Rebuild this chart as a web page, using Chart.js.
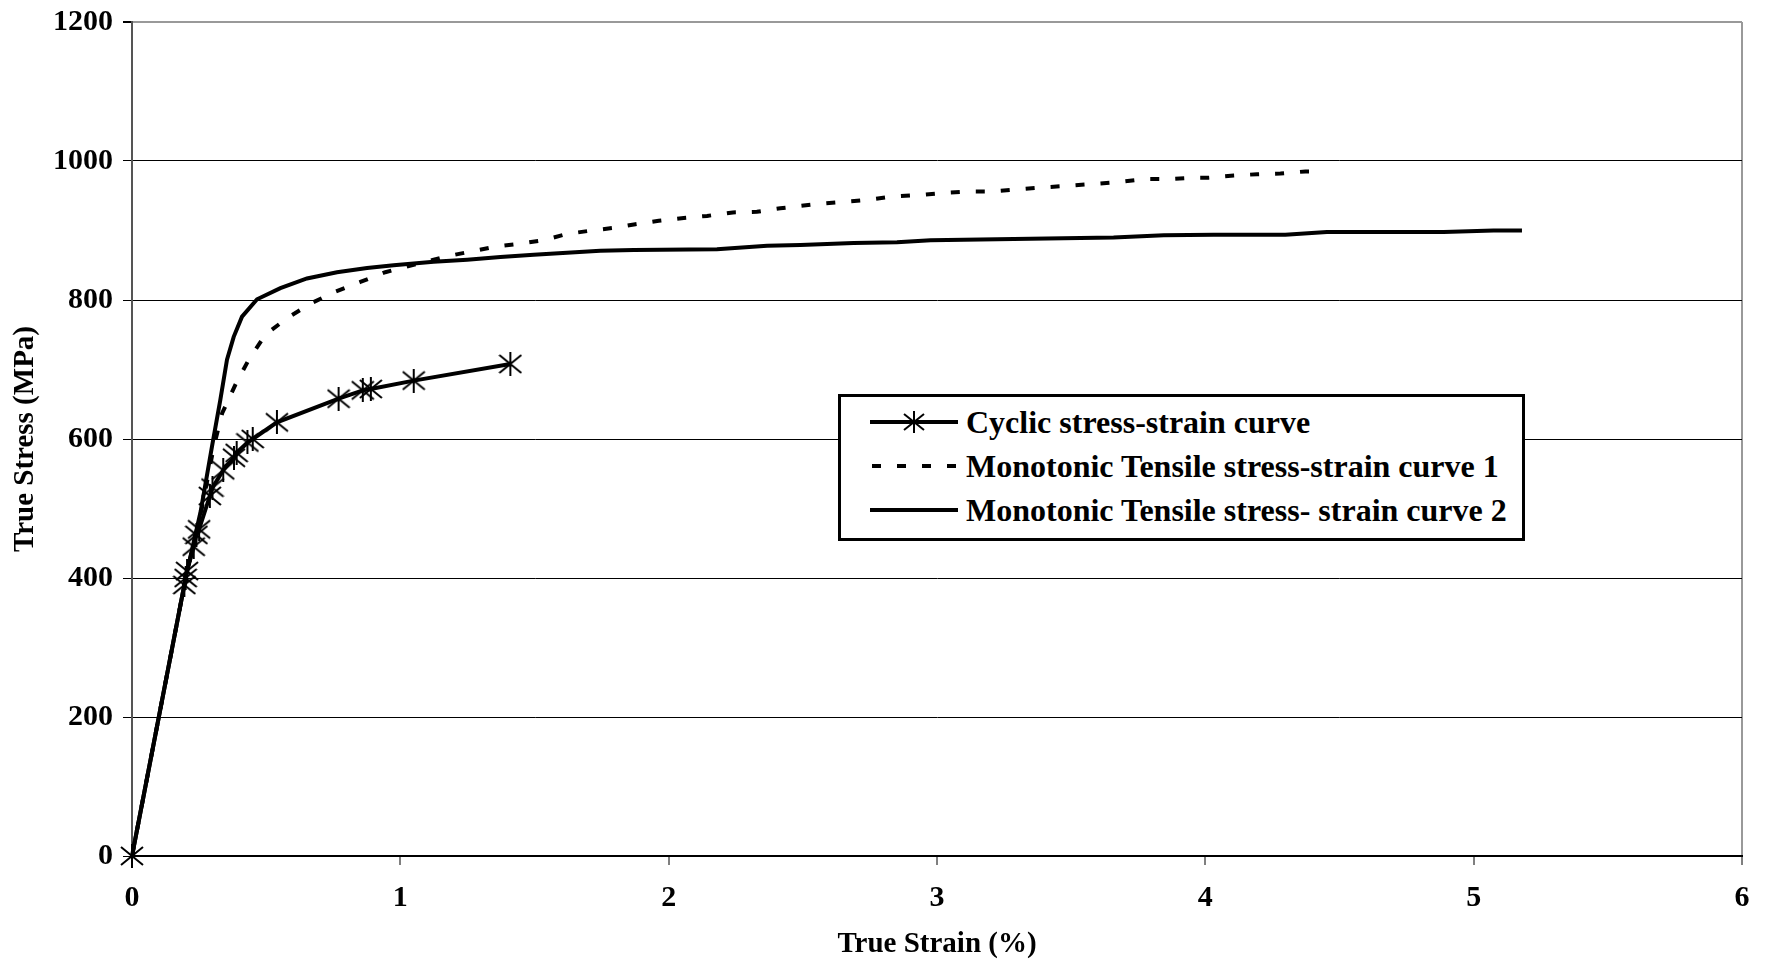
<!DOCTYPE html>
<html>
<head>
<meta charset="utf-8">
<script src="https://cdn.jsdelivr.net/npm/chart.js@4"></script>
<style>
  body { margin: 0; background: #fff; }
  #wrap { position: relative; width: 1771px; height: 963px; }
  #legend {
    position: absolute; left: 838px; top: 394px; width: 687px; height: 147px;
    box-sizing: border-box; border: 3px solid #000; background: #fff;
    font: bold 32px "Liberation Serif", "Times New Roman", serif; color: #000;
    padding-top: 3px;
  }
  .row { height: 44px; display: flex; align-items: center; white-space: nowrap; }
  .row svg { margin-left: 29px; margin-right: 8px; flex: none; }
</style>
</head>
<body>
<div id="wrap">
  <canvas id="chart" width="1771" height="963"></canvas>
  <div id="legend">
    <div class="row">
      <svg width="88" height="24"><line x1="0" y1="12" x2="88" y2="12" stroke="#000" stroke-width="4"/>
        <g stroke="#000" stroke-width="2"><line x1="44" y1="1" x2="44" y2="23"/><line x1="34" y1="4" x2="54" y2="20"/><line x1="34" y1="20" x2="54" y2="4"/></g></svg>
      <span>Cyclic stress-strain curve</span>
    </div>
    <div class="row">
      <svg width="88" height="24"><line x1="2" y1="12" x2="88" y2="12" stroke="#000" stroke-width="4" stroke-dasharray="9 16"/></svg>
      <span>Monotonic Tensile stress-strain curve 1</span>
    </div>
    <div class="row">
      <svg width="88" height="24"><line x1="0" y1="12" x2="88" y2="12" stroke="#000" stroke-width="4"/></svg>
      <span>Monotonic Tensile stress- strain curve 2</span>
    </div>
  </div>
</div>
<script>
// данні: деформація (%) і напруження (MPa)
const cyclicStrain = [0, 0.195, 0.2, 0.205, 0.23, 0.24, 0.25, 0.29, 0.3, 0.34, 0.38, 0.39, 0.43, 0.45, 0.54, 0.77, 0.86, 0.89, 1.05, 1.41];
const cyclicStress = [0, 390, 400, 410, 445, 462, 470, 518, 530, 555, 573, 580, 595, 600, 624, 658, 670, 672, 684, 708];

const mono1Strain = [0, 0.1, 0.2, 0.26, 0.305, 0.336, 0.385, 0.435, 0.497, 0.578, 0.671, 0.758, 0.851, 0.944, 1.124, 1.174, 1.267, 1.358, 1.447, 1.533, 1.621, 1.712, 1.801, 1.876, 1.963, 2.056, 2.143, 2.239, 2.329, 2.416, 2.553, 2.646, 2.739, 2.839, 2.932, 3.025, 3.112, 3.205, 3.298, 3.392, 3.478, 3.584, 3.686, 3.776, 3.863, 3.956, 4.012, 4.106, 4.193, 4.28, 4.373, 4.4];
const mono1Stress = [0, 200, 400, 500, 589, 637, 678, 714, 750, 774, 796, 812, 826, 840, 858, 863, 870, 877, 881, 886, 895, 900, 904, 909, 914, 918, 921, 926, 927, 932, 938, 941, 944, 949, 951, 954, 956, 956, 959, 962, 964, 967, 970, 974, 974, 976, 976, 979, 981, 982, 985, 985];

const mono2Strain = [0, 0.1, 0.2, 0.256, 0.298, 0.329, 0.354, 0.379, 0.41, 0.466, 0.553, 0.652, 0.764, 0.876, 0.975, 1.124, 1.249, 1.373, 1.497, 1.621, 1.745, 1.87, 2.18, 2.367, 2.491, 2.689, 2.851, 2.976, 3.162, 3.472, 3.658, 3.845, 4.031, 4.298, 4.453, 4.888, 5.074, 5.18];
const mono2Stress = [0, 200, 400, 496, 589, 656, 714, 747, 776, 801, 817, 831, 840, 846, 850, 855, 858, 862, 865, 868, 871, 872, 873, 878, 879, 882, 883, 886, 887, 889, 890, 893, 894, 894, 898, 898, 900, 900];

const xTicks = [0, 1, 2, 3, 4, 5, 6];
const yTicks = [0, 200, 400, 600, 800, 1000, 1200];

const toPoints = (xs, ys) => xs.map((x, i) => ({ x: x, y: ys[i] }));

// маркер-зірочка (6 променів)
const star = document.createElement("canvas");
star.width = 24;
star.height = 24;
const sctx = star.getContext("2d");
sctx.strokeStyle = "#000";
sctx.lineWidth = 2;
sctx.beginPath();
sctx.moveTo(12, 0); sctx.lineTo(12, 24);
sctx.moveTo(1, 3); sctx.lineTo(23, 21);
sctx.moveTo(1, 21); sctx.lineTo(23, 3);
sctx.stroke();

const serif = '"Liberation Serif", "Times New Roman", serif';
const tickFont = { family: serif, weight: "bold", size: 30 };
const titleFont = { family: serif, weight: "bold", size: 29 };

new Chart(document.getElementById("chart"), {
  type: "scatter",
  data: {
    datasets: [
      {
        label: "Cyclic stress-strain curve",
        data: toPoints(cyclicStrain, cyclicStress),
        showLine: true,
        borderColor: "#000",
        borderWidth: 4,
        pointStyle: star,
        pointRadius: 12,
        clip: false,
      },
      {
        label: "Monotonic Tensile stress-strain curve 1",
        data: toPoints(mono1Strain, mono1Stress),
        showLine: true,
        borderColor: "#000",
        borderWidth: 4,
        borderDash: [9, 16],
        pointRadius: 0,
      },
      {
        label: "Monotonic Tensile stress- strain curve 2",
        data: toPoints(mono2Strain, mono2Stress),
        showLine: true,
        borderColor: "#000",
        borderWidth: 4,
        pointRadius: 0,
      },
    ],
  },
  options: {
    responsive: false,
    animation: false,
    layout: { padding: { left: 0, top: 22, right: 29, bottom: 0 } },
    plugins: { legend: { display: false }, tooltip: { enabled: false } },
    scales: {
      x: {
        type: "linear",
        min: 0,
        max: 6,
        afterFit: (s) => { s.height = 107; s.paddingLeft = 0; s.paddingRight = 0; },
        afterBuildTicks: (s) => { s.ticks = xTicks.map((v) => ({ value: v })); },
        ticks: { color: "#000", font: tickFont, padding: 15, callback: (v) => String(v) },
        grid: {
          color: (c) => (c.tick && c.tick.value === 6 ? "#999" : "rgba(0,0,0,0)"),
          lineWidth: 2,
          tickColor: "#000",
          tickLength: 9,
          tickWidth: 1,
        },
        border: { color: "#000", width: 2 },
        title: { display: true, text: "True Strain (%)", color: "#000", font: titleFont, padding: { top: 0, bottom: 1 } },
      },
      y: {
        type: "linear",
        min: 0,
        max: 1200,
        afterFit: (s) => { s.width = 132; s.paddingTop = 0; s.paddingBottom = 0; },
        afterBuildTicks: (s) => { s.ticks = yTicks.map((v) => ({ value: v })); },
        ticks: { color: "#000", font: tickFont, padding: 10, callback: (v) => String(v) },
        grid: {
          color: (c) => (c.tick && c.tick.value === 1200 ? "#999" : "#000"),
          lineWidth: (c) => (c.tick && c.tick.value === 1200 ? 2 : 1),
          tickColor: "#000",
          tickLength: 9,
        },
        border: { color: "#555", width: 2 },
        title: { display: true, text: "True Stress (MPa)", color: "#000", font: titleFont, padding: { top: 8, bottom: 0 } },
      },
    },
  },
});
</script>
</body>
</html>
